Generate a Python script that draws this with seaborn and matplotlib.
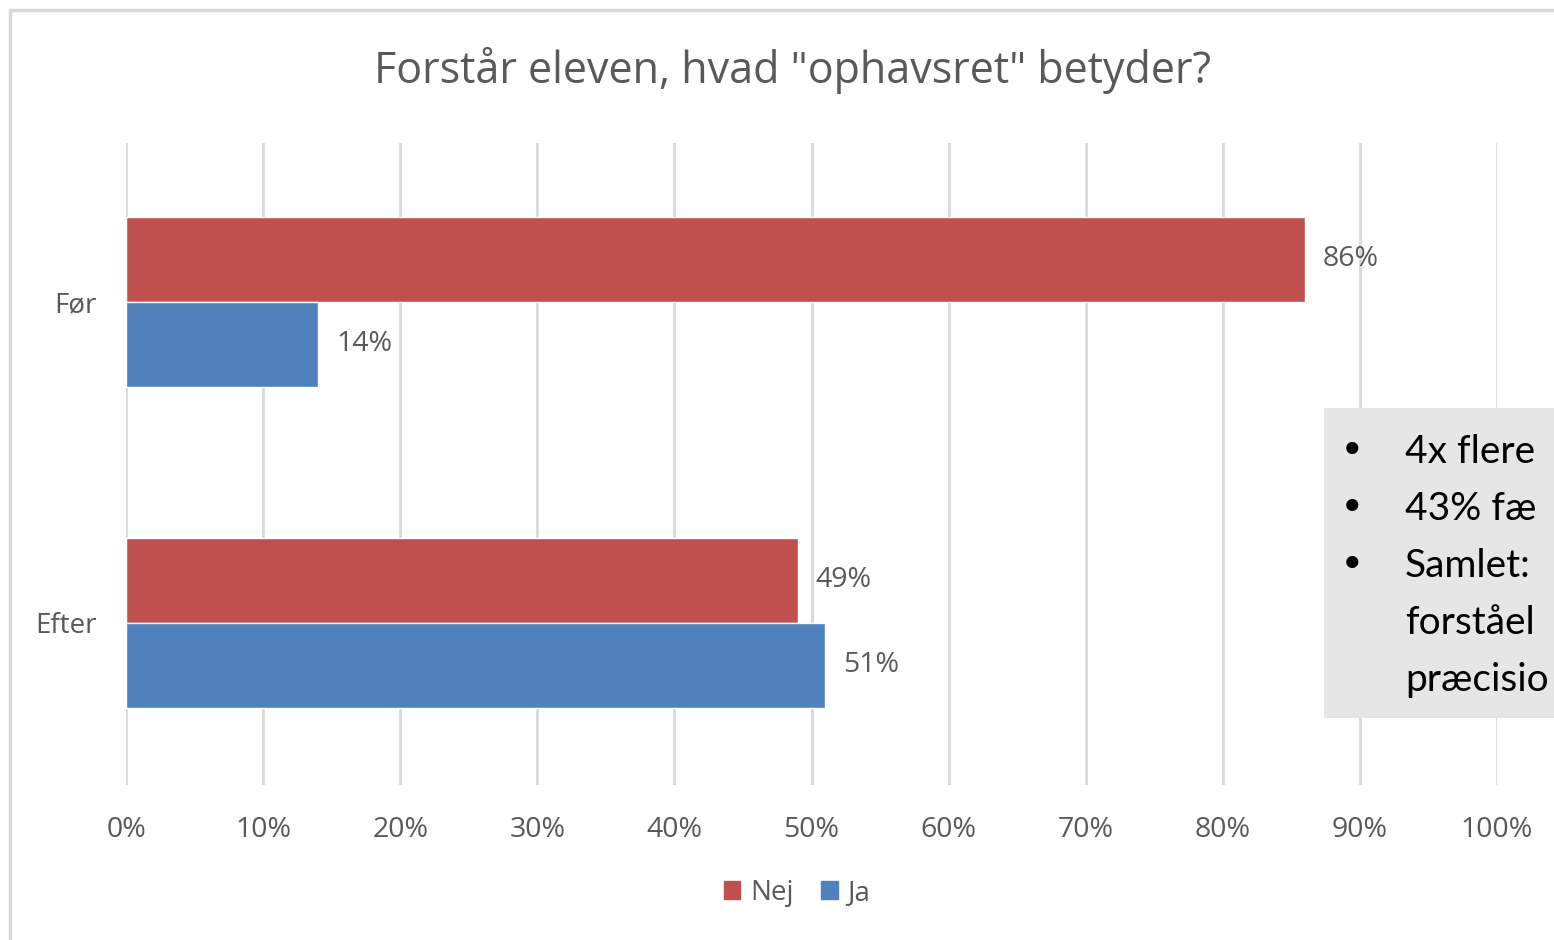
import matplotlib
matplotlib.use("Agg")
import matplotlib.pyplot as plt
from matplotlib.patches import Rectangle
import pandas as pd
import seaborn as sns

# data
periods = ["Før", "Før", "Efter", "Efter"]
answers = ["Nej", "Ja", "Nej", "Ja"]
shares = [86, 14, 49, 51]

x_ticks = list(range(0, 101, 10))
tick_labels = [f"{t}%" for t in x_ticks]
# the side note is cut off at the right edge in the source picture
bullet_lines = ["4x flere", "43% fæ", "Samlet:", "forståel", "præcisio"]
bullet_marks = [True, True, True, False, False]

RED = "#C0504D"
BLUE = "#4F81BD"
TXT = "#595959"

sns.set_theme(style="white")
plt.rcParams["font.family"] = ["Open Sans", "DejaVu Sans"]

df = pd.DataFrame({"period": periods, "answer": answers, "share": shares})

fig = plt.figure(figsize=(15.54, 9.4), dpi=100)
ax = fig.add_axes([126 / 1554, 1 - 785 / 940, (1497 - 126) / 1554, (785 - 143) / 940])

sns.barplot(data=df, x="share", y="period", hue="answer", hue_order=["Nej", "Ja"],
            palette=[RED, BLUE], width=0.53, orient="h", ax=ax, saturation=1,
            legend=False)

for cont in ax.containers:
    ax.bar_label(cont, labels=[f"{v:.0f}%" for v in cont.datavalues],
                 padding=13, fontsize=20.5, color=TXT)

ax.set_xlim(0, 100)
ax.set_ylim(1.505, -0.495)
ax.set_xticks(x_ticks)
ax.set_xticklabels(tick_labels)
ax.tick_params(axis="x", labelsize=20.5, colors=TXT, pad=22, length=0)
ax.tick_params(axis="y", labelsize=20, colors=TXT, pad=21, length=0)
ax.set_xlabel("")
ax.set_ylabel("")
ax.xaxis.grid(True, color="#d9d9d9", linewidth=2)
ax.set_axisbelow(True)
for s in ax.spines.values():
    s.set_visible(False)

fig.text(792 / 1554, 1 - 70 / 940, 'Forstår eleven, hvad "ophavsret" betyder?',
         ha="center", va="center", fontsize=31, color=TXT)

# legend
handles = [Rectangle((0, 0), 1, 1, color=RED), Rectangle((0, 0), 1, 1, color=BLUE)]
fig.legend(handles, ["Nej", "Ja"], loc="center", bbox_to_anchor=(797 / 1554, 1 - 893 / 940),
           ncol=2, frameon=False, fontsize=20, handlelength=0.6, handleheight=0.6,
           handletextpad=0.35, columnspacing=1.0, labelcolor=TXT)

# chart frame
fig.add_artist(Rectangle((10 / 1554, -0.01), 1.1, 1 - 10 / 940 + 0.01, transform=fig.transFigure,
                         fill=False, edgecolor="#d9d9d9", linewidth=2.5))

# grey overlay box with bullet text
fig.add_artist(Rectangle((1324 / 1554, 1 - 718 / 940), 0.2, 310 / 940, transform=fig.transFigure,
                         facecolor="#e6e6e6", edgecolor="none", zorder=5))
for i, (line, mark) in enumerate(zip(bullet_lines, bullet_marks)):
    y = 1 - (452 + i * 57) / 940
    if mark:
        fig.text(1352 / 1554, y, "•", ha="center", va="center", fontsize=30,
                 color="black", zorder=6, family=["DejaVu Sans"])
    fig.text(1405 / 1554, y, line, ha="left", va="center", fontsize=28,
             color="black", zorder=6, family=["Lato", "DejaVu Sans"])

fig.savefig("out.png", dpi=100)
